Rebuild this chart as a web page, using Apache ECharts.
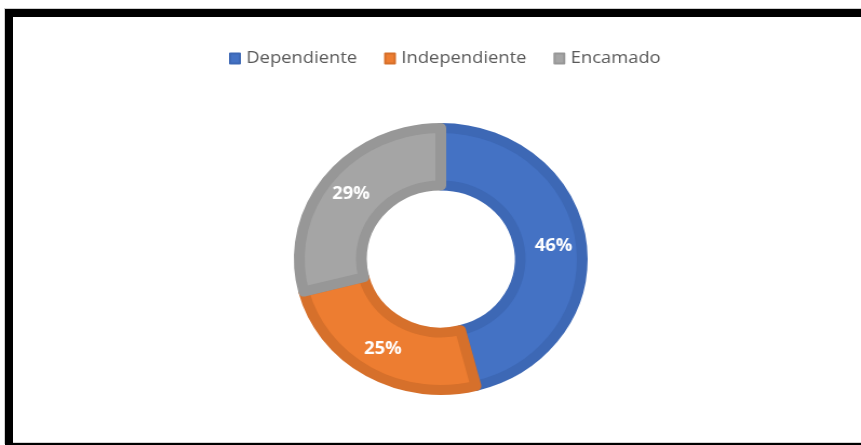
<!DOCTYPE html>
<html>
<head>
<meta charset="utf-8">
<script src="https://cdn.jsdelivr.net/npm/echarts@6/dist/echarts.min.js"></script>
<style>
  html, body { margin: 0; padding: 0; background: #fff; width: 861px; height: 445px; overflow: hidden; }
  #chart {
    position: absolute; left: 0; top: 0; width: 797px; height: 445px;
    transform: scaleX(1.0803); transform-origin: 0 0;
  }
  #frame {
    position: absolute; left: 5px; top: 9px; width: 880px; height: 436px;
    box-sizing: border-box;
    border-top: 8px solid #000; border-left: 8px solid #000; border-bottom: 2px solid #000;
    box-shadow: -1px -1px 0 #cfcfcf;
    pointer-events: none; z-index: 2;
  }
  #frame-inner {
    position: absolute; left: 0; right: 0; bottom: 0; height: 1px; background: #d4d4d4;
  }
</style>
</head>
<body>
<div id="chart"></div>
<div id="frame"><div id="frame-inner"></div></div>
<script>
// Share of patients by dependency level (%)
const categories = ['Dependiente', 'Independiente', 'Encamado'];
const shares = [46, 25, 29];

const fills = ['#4472C4', '#ED7D31', '#A5A5A5'];
const edges = ['#3D68B5', '#D6702B', '#979797'];

const chart = echarts.init(document.getElementById('chart'), null, { renderer: 'canvas' });

chart.setOption({
  animation: false,
  backgroundColor: 'transparent',
  legend: {
    data: categories,
    top: 45,
    left: 207,
    icon: 'rect',
    itemWidth: 9,
    itemHeight: 10,
    itemGap: 25,
    textStyle: {
      color: '#595959',
      fontFamily: 'Open Sans',
      fontSize: 17,
      padding: [0, 0, 0, 1]
    }
  },
  series: [{
    type: 'pie',
    center: [408, 259],
    radius: [73.5, 131],
    startAngle: 90,
    clockwise: true,
    percentPrecision: 0,
    avoidLabelOverlap: false,
    label: {
      show: true,
      position: 'inside',
      formatter: '{d}%',
      color: '#fff',
      fontFamily: 'Open Sans',
      fontWeight: 'bold',
      fontSize: 17
    },
    labelLine: { show: false },
    emphasis: { disabled: true },
    data: categories.map((name, i) => ({
      name: name,
      value: shares[i],
      itemStyle: {
        color: fills[i],
        borderColor: edges[i],
        borderWidth: 10
      }
    }))
  }]
});
</script>
</body>
</html>
